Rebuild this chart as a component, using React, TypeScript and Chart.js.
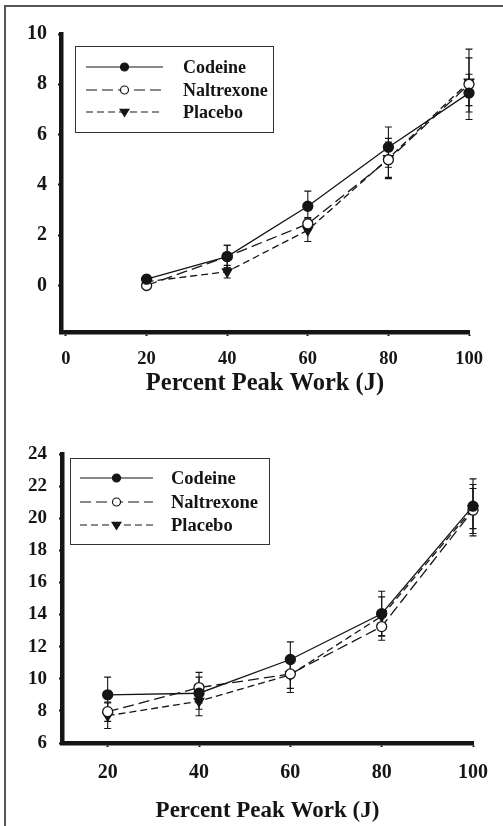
import React, { useEffect, useRef } from "react";
import { Chart, registerables } from "chart.js";
Chart.register(...registerables);

// ---------- data ----------
const xValues = [20, 40, 60, 80, 100];
const seriesNames = ["Codeine", "Naltrexone", "Placebo"];
const xTitle = "Percent Peak Work (J)";

// top panel
const topCodeine = [0.25, 1.15, 3.15, 5.5, 7.65];
const topNaltrexone = [0.0, 1.15, 2.45, 5.0, 8.0];
const topPlacebo = [0.15, 0.55, 2.2, 5.05, 8.1];
const topCodeineErr = [0.15, 0.45, 0.6, 0.8, 0.75];
const topNaltrexoneErr = [0.1, 0.45, 0.25, 0.7, 1.4];
const topPlaceboErr = [0.1, 0.25, 0.45, 0.8, 0.95];
const topYTicks = [0, 2, 4, 6, 8, 10];
const topXTicks = [0, 20, 40, 60, 80, 100];

// bottom panel
const botCodeine = [9.0, 9.1, 11.2, 14.05, 20.75];
const botNaltrexone = [7.95, 9.45, 10.3, 13.25, 20.5];
const botPlacebo = [7.7, 8.6, 10.25, 13.9, 20.6];
const botCodeineErr = [1.1, 1.0, 1.1, 1.4, 1.7];
const botNaltrexoneErr = [0.6, 0.95, 0.9, 0.85, 1.6];
const botPlaceboErr = [0.8, 0.9, 1.1, 1.2, 1.25];
const botYTicks = [6, 8, 10, 12, 14, 16, 18, 20, 22, 24];
const botXTicks = [20, 40, 60, 80, 100];

const INK = "#151515";
const FONT = "'Liberation Serif', 'Times New Roman', serif";

type Style = {
  dash: number[];
  pointStyle: string;
  fill: string;
  radius: number;
  rotation: number;
};
const styles: Style[] = [
  { dash: [], pointStyle: "circle", fill: INK, radius: 5, rotation: 0 },
  { dash: [11, 5], pointStyle: "circle", fill: "#ffffff", radius: 5, rotation: 0 },
  { dash: [7, 4], pointStyle: "triangle", fill: INK, radius: 5.5, rotation: 180 },
];

type PanelCfg = {
  series: number[][];
  errors: number[][];
  yTicks: number[];
  xTicks: number[];
  xMin: number;
  xMax: number;
  yMin: number;
  yMax: number;
  height: number;
  area: { left: number; right: number; top: number; bottom: number };
  xTickFont: number;
  yTickFont: number;
  titleFont: number;
  titlePad: number;
  xLabelGap: number;
  yLabelGap: number;
  legend: { x: number; y: number; w: number; h: number; font: number; lineX1: number; lineX2: number; textX: number; rows: number[] };
};

function makeChart(canvas: HTMLCanvasElement, cfg: PanelCfg) {
  const W = 503;
  const datasets = cfg.series.map((vals, i) => ({
    label: seriesNames[i],
    data: xValues.map((x, j) => ({ x, y: vals[j] })),
    borderColor: INK,
    borderWidth: 1.3,
    borderDash: styles[i].dash,
    pointStyle: styles[i].pointStyle as any,
    pointRadius: styles[i].radius,
    pointRotation: styles[i].rotation,
    pointBackgroundColor: styles[i].fill,
    pointBorderColor: INK,
    pointBorderWidth: 1.3,
    tension: 0,
    clip: false as any,
    order: i,
  }));

  const errorBars = {
    id: "errorBars",
    beforeDatasetsDraw(chart: any) {
      const ctx = chart.ctx;
      const xs = chart.scales.x;
      const ys = chart.scales.y;
      ctx.save();
      ctx.strokeStyle = INK;
      ctx.lineWidth = 1.1;
      ctx.setLineDash([]);
      cfg.series.forEach((vals, i) => {
        vals.forEach((v, j) => {
          const e = cfg.errors[i][j];
          const px = xs.getPixelForValue(xValues[j]);
          const pTop = ys.getPixelForValue(v + e);
          const pBot = ys.getPixelForValue(v - e);
          ctx.beginPath();
          ctx.moveTo(px, pTop);
          ctx.lineTo(px, pBot);
          ctx.moveTo(px - 3.5, pTop);
          ctx.lineTo(px + 3.5, pTop);
          ctx.moveTo(px - 3.5, pBot);
          ctx.lineTo(px + 3.5, pBot);
          ctx.stroke();
        });
      });
      ctx.restore();
    },
  };

  const legendPlugin = {
    id: "customLegend",
    afterDraw(chart: any) {
      const ctx = chart.ctx;
      const L = cfg.legend;
      ctx.save();
      ctx.fillStyle = "#ffffff";
      ctx.fillRect(L.x, L.y, L.w, L.h);
      ctx.strokeStyle = "#333";
      ctx.lineWidth = 1;
      ctx.strokeRect(L.x + 0.5, L.y + 0.5, L.w, L.h);
      const mid = (L.lineX1 + L.lineX2) / 2;
      seriesNames.forEach((name, i) => {
        const y = L.rows[i];
        const st = styles[i];
        ctx.strokeStyle = INK;
        ctx.lineWidth = 1.2;
        ctx.setLineDash(st.dash);
        ctx.beginPath();
        ctx.moveTo(L.lineX1, y);
        ctx.lineTo(L.lineX2, y);
        ctx.stroke();
        ctx.setLineDash([]);
        ctx.lineWidth = 1.2;
        ctx.fillStyle = st.fill;
        ctx.beginPath();
        if (st.pointStyle === "circle") {
          ctx.arc(mid, y, st.radius * 0.8, 0, Math.PI * 2);
        } else {
          const r = st.radius * 0.8;
          ctx.moveTo(mid - r, y - r * 0.6);
          ctx.lineTo(mid + r, y - r * 0.6);
          ctx.lineTo(mid, y + r);
          ctx.closePath();
        }
        ctx.fill();
        ctx.stroke();
        ctx.fillStyle = INK;
        ctx.font = `bold ${L.font}px ${FONT}`;
        ctx.textBaseline = "middle";
        ctx.textAlign = "left";
        ctx.fillText(name, L.textX, y + 1);
      });
      ctx.restore();
    },
  };

  return new Chart(canvas, {
    type: "line",
    data: { datasets: datasets as any },
    plugins: [errorBars, legendPlugin],
    options: {
      animation: false,
      responsive: false,
      maintainAspectRatio: false,
      layout: {
        padding: {
          left: 0,
          top: cfg.area.top,
          right: W - cfg.area.right,
          bottom: 0,
        },
      },
      plugins: { legend: { display: false }, tooltip: { enabled: false } },
      scales: {
        x: {
          type: "linear",
          min: cfg.xMin,
          max: cfg.xMax,
          afterBuildTicks: (s: any) => {
            s.ticks = cfg.xTicks.map((v) => ({ value: v }));
          },
          afterFit: (s: any) => {
            s.height = cfg.height - cfg.area.bottom;
          },
          grid: {
            display: true,
            drawOnChartArea: false,
            drawTicks: true,
            tickLength: 4,
            tickWidth: 2,
            tickColor: INK,
          },
          border: { display: true, width: 4.5, color: INK },
          ticks: {
            color: INK,
            padding: cfg.xLabelGap,
            maxRotation: 0,
            autoSkip: false,
            font: { family: FONT, weight: "bold", size: cfg.xTickFont },
          },
          title: {
            display: true,
            text: xTitle,
            color: INK,
            font: { family: FONT, weight: "bold", size: cfg.titleFont },
            padding: { top: 0, bottom: cfg.titlePad },
          },
        },
        y: {
          type: "linear",
          min: cfg.yMin,
          max: cfg.yMax,
          afterBuildTicks: (s: any) => {
            s.ticks = cfg.yTicks.map((v) => ({ value: v }));
          },
          afterFit: (s: any) => {
            s.width = cfg.area.left;
          },
          grid: {
            display: true,
            drawOnChartArea: false,
            drawTicks: true,
            tickLength: 3,
            tickWidth: 2,
            tickColor: INK,
          },
          border: { display: true, width: 4.5, color: INK },
          ticks: {
            color: INK,
            padding: cfg.yLabelGap,
            autoSkip: false,
            font: { family: FONT, weight: "bold", size: cfg.yTickFont },
          },
        },
      },
    } as any,
  });
}

const topCfg: PanelCfg = {
  series: [topCodeine, topNaltrexone, topPlacebo],
  errors: [topCodeineErr, topNaltrexoneErr, topPlaceboErr],
  yTicks: topYTicks,
  xTicks: topXTicks,
  xMin: -1.24,
  xMax: 100,
  yMin: -1.85,
  yMax: 10,
  height: 410,
  area: { left: 61, right: 469, top: 34, bottom: 332 },
  xTickFont: 18.5,
  yTickFont: 20,
  titleFont: 24.5,
  titlePad: 12,
  xLabelGap: 12,
  yLabelGap: 11,
  legend: { x: 75, y: 46, w: 198, h: 86, font: 18, lineX1: 86, lineX2: 163, textX: 183, rows: [67, 90, 112] },
};

const botCfg: PanelCfg = {
  series: [botCodeine, botNaltrexone, botPlacebo],
  errors: [botCodeineErr, botNaltrexoneErr, botPlaceboErr],
  yTicks: botYTicks,
  xTicks: botXTicks,
  xMin: 10,
  xMax: 100,
  yMin: 6,
  yMax: 24,
  height: 416,
  area: { left: 62, right: 473, top: 44, bottom: 333 },
  xTickFont: 20,
  yTickFont: 19,
  titleFont: 23,
  titlePad: 1,
  xLabelGap: 14,
  yLabelGap: 12,
  legend: { x: 70, y: 48, w: 199, h: 86, font: 18.5, lineX1: 80, lineX2: 153, textX: 171, rows: [68, 92, 115] },
};

function Panel({ cfg, top }: { cfg: PanelCfg; top: number }) {
  const ref = useRef<HTMLCanvasElement | null>(null);
  useEffect(() => {
    if (!ref.current) return;
    const c = makeChart(ref.current, cfg);
    return () => c.destroy();
  }, [cfg]);
  return (
    <canvas
      ref={ref}
      width={503}
      height={cfg.height}
      style={{ position: "absolute", left: 0, top, width: 503, height: cfg.height }}
    />
  );
}

export default function App() {
  return (
    <div style={{ position: "absolute", left: 0, top: 0, width: 503, height: 826, background: "#fff", overflow: "hidden" }}>
      <Panel cfg={topCfg} top={0} />
      <Panel cfg={botCfg} top={410} />
      <div style={{ position: "absolute", left: 4, top: 5, width: 499, height: 0, borderTop: "2px solid #555" }} />
      <div style={{ position: "absolute", left: 4, top: 5, width: 0, height: 821, borderLeft: "2px solid #555" }} />
    </div>
  );
}
